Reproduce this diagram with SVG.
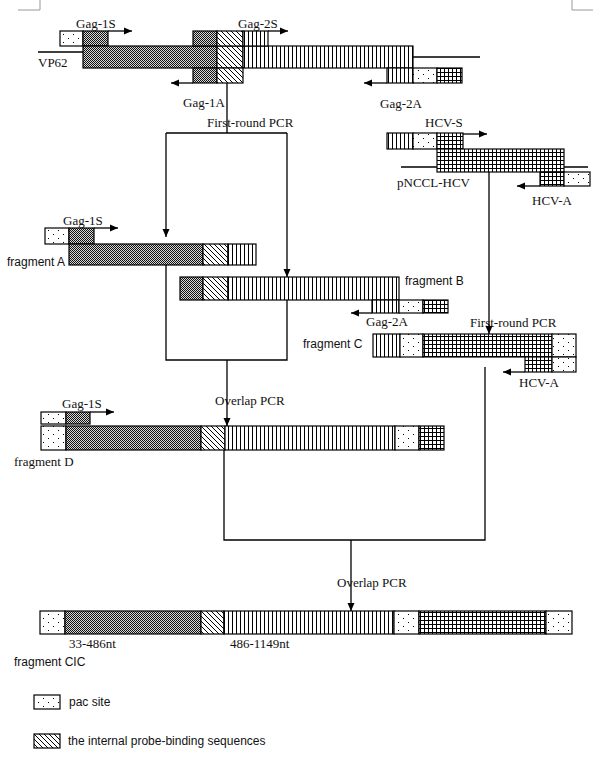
<svg xmlns="http://www.w3.org/2000/svg" width="600" height="757" viewBox="0 0 600 757">
<defs>
<pattern id="pac" width="10" height="8" patternUnits="userSpaceOnUse"><rect width="10" height="8" fill="#fff"/><rect x="3" y="2" width="1" height="1" fill="#000"/><rect x="8" y="6" width="1" height="1" fill="#000"/></pattern>
<pattern id="dense" width="2" height="2" patternUnits="userSpaceOnUse"><rect width="2" height="2" fill="#d8d8d8"/><rect width="1" height="1" fill="#111"/><rect x="1" y="1" width="1" height="1" fill="#111"/></pattern>
<pattern id="diag" width="5" height="5" patternUnits="userSpaceOnUse"><rect width="5" height="5" fill="#fff"/><path d="M-1,-1 L6,6 M-1,4 L1,6 M4,-1 L6,1" stroke="#000" stroke-width="1"/></pattern>
<pattern id="vert" width="4" height="4" patternUnits="userSpaceOnUse"><rect width="4" height="4" fill="#fff"/><rect x="0" width="1" height="4" fill="#000"/></pattern>
<pattern id="grid" width="4" height="4" patternUnits="userSpaceOnUse"><rect width="4" height="4" fill="#fff"/><rect width="1" height="4" fill="#000"/><rect width="4" height="1" fill="#000"/></pattern>
<marker id="ah" markerUnits="userSpaceOnUse" markerWidth="8" markerHeight="8" refX="8" refY="4" orient="auto"><path d="M0,0.5 L8,4 L0,7.5 z" fill="#000"/></marker>
</defs>
<style>
.s{stroke:#000;stroke-width:1.2}
.p{fill:url(#pac)}
.d{fill:url(#dense)}
.h{fill:url(#diag)}
.v{fill:url(#vert)}
.g{fill:url(#grid)}
.ln{stroke:#000;stroke-width:1.3;fill:none}
.ar{stroke:#000;stroke-width:1.3;fill:none;marker-end:url(#ah)}
.t{font-family:"Liberation Serif",serif;font-size:13px;fill:#111}
.f{font-family:"Liberation Sans",sans-serif;font-size:12px;fill:#111}
</style>
<rect width="600" height="757" fill="#fff"/>
<path d="M40,0 V10 H18 M572,0 V10 H593" stroke="#999" stroke-width="1" fill="none"/>

<g id="vp62">
<path class="ln" d="M38,52 H83 M413,57 H480"/>
<rect class="s p" x="60" y="31" width="23" height="15"/>
<rect class="s d" x="83" y="31" width="25" height="15"/>
<rect class="s d" x="83" y="46" width="134" height="22"/>
<rect class="s h" x="217" y="46" width="26" height="22"/>
<rect class="s v" x="243" y="46" width="170" height="22"/>
<rect class="s d" x="193" y="31" width="24" height="15"/>
<rect class="s h" x="217" y="31" width="26" height="15"/>
<rect class="s v" x="243" y="31" width="25" height="15"/>
<rect class="s d" x="193" y="68" width="24" height="15"/>
<rect class="s h" x="217" y="68" width="26" height="15"/>
<rect class="s v" x="387" y="68" width="26" height="15"/>
<rect class="s p" x="413" y="68" width="24" height="15"/>
<rect class="s g" x="437" y="68" width="25" height="15"/>
<path class="ar" d="M108,31 H132"/>
<path class="ar" d="M268,31 H288"/>
<path class="ar" d="M193,83 H171"/>
<path class="ar" d="M387,83 H364"/>
<text class="t" x="76" y="28">Gag-1S</text>
<text class="t" x="238" y="28">Gag-2S</text>
<text class="t" x="38" y="67">VP62</text>
<text class="t" x="183" y="107">Gag-1A</text>
<text class="t" x="380" y="108">Gag-2A</text>
</g>

<g id="hcv">
<path class="ln" d="M401,167 H437 M564,167 H588"/>
<rect class="s v" x="387" y="133" width="26" height="16"/>
<rect class="s p" x="413" y="133" width="24" height="16"/>
<rect class="s g" x="437" y="133" width="26" height="16"/>
<rect class="s g" x="437" y="149" width="127" height="23"/>
<rect class="s g" x="540" y="172" width="24" height="14"/>
<rect class="s p" x="564" y="172" width="26" height="14"/>
<path class="ar" d="M463,134 H487"/>
<path class="ar" d="M540,186 H517"/>
<text class="t" x="425" y="127">HCV-S</text>
<text class="t" x="397" y="187">pNCCL-HCV</text>
<text class="t" x="532" y="205">HCV-A</text>
</g>

<g id="fragA">
<rect class="s p" x="45" y="228" width="24" height="16"/>
<rect class="s d" x="69" y="228" width="25" height="16"/>
<rect class="s d" x="69" y="244" width="134" height="21"/>
<rect class="s h" x="203" y="244" width="25" height="21"/>
<rect class="s v" x="228" y="244" width="28" height="21"/>
<path class="ar" d="M94,228 H118"/>
<text class="t" x="63" y="225">Gag-1S</text>
<text class="f" x="7" y="266">fragment A</text>
</g>

<g id="fragB">
<rect class="s d" x="180" y="277" width="23" height="23"/>
<rect class="s h" x="203" y="277" width="25" height="23"/>
<rect class="s v" x="228" y="277" width="171" height="23"/>
<rect class="s v" x="372" y="300" width="27" height="13"/>
<rect class="s p" x="399" y="300" width="24" height="13"/>
<rect class="s g" x="423" y="300" width="25" height="13"/>
<path class="ar" d="M372,313 H351"/>
<text class="f" x="405" y="285">fragment B</text>
<text class="t" x="366" y="326">Gag-2A</text>
</g>

<g id="fragC">
<rect class="s v" x="373" y="334" width="27" height="23"/>
<rect class="s p" x="400" y="334" width="23" height="23"/>
<rect class="s g" x="423" y="334" width="129" height="23"/>
<rect class="s p" x="552" y="334" width="24" height="23"/>
<rect class="s g" x="525" y="357" width="27" height="15"/>
<rect class="s p" x="552" y="357" width="24" height="15"/>
<path class="ar" d="M525,372 H503"/>
<text class="f" x="303" y="348">fragment C</text>
<text class="t" x="470" y="327">First-round PCR</text>
<text class="t" x="519" y="387">HCV-A</text>
</g>

<g id="fragD">
<rect class="s p" x="41" y="412" width="25" height="12"/>
<rect class="s d" x="66" y="412" width="24" height="12"/>
<rect class="s p" x="41" y="426" width="25" height="24"/>
<rect class="s d" x="66" y="426" width="135" height="24"/>
<rect class="s h" x="201" y="426" width="24" height="24"/>
<rect class="s v" x="225" y="426" width="170" height="24"/>
<rect class="s p" x="395" y="426" width="24" height="24"/>
<rect class="s g" x="419" y="426" width="25" height="24"/>
<path class="ar" d="M90,412 H114"/>
<text class="t" x="62" y="408">Gag-1S</text>
<text class="t" x="215" y="405">Overlap PCR</text>
<text class="t" x="14" y="466">fragment D</text>
</g>

<g id="fragCIC">
<rect class="s p" x="40" y="611" width="25" height="23"/>
<rect class="s d" x="65" y="611" width="136" height="23"/>
<rect class="s h" x="201" y="611" width="23" height="23"/>
<rect class="s v" x="224" y="611" width="170" height="23"/>
<rect class="s p" x="394" y="611" width="25" height="23"/>
<rect class="s g" x="419" y="611" width="127" height="23"/>
<rect class="s p" x="546" y="611" width="26" height="23"/>
<text class="t" x="69" y="648">33-486nt</text>
<text class="t" x="230" y="648">486-1149nt</text>
<text class="f" x="14" y="666">fragment CIC</text>
<text class="t" x="337" y="587">Overlap PCR</text>
</g>

<g id="legend">
<rect class="s p" x="34" y="695" width="26" height="14"/>
<text class="f" x="69" y="706">pac site</text>
<rect class="s h" x="34" y="734" width="26" height="14"/>
<text class="f" x="68" y="745">the internal probe-binding sequences</text>
</g>

<g id="connectors">
<path class="ln" d="M227,83 V133 M166,133 H287"/>
<path class="ar" d="M166,133 V237"/>
<path class="ar" d="M287,133 V277"/>
<text class="t" x="207" y="127">First-round PCR</text>
<path class="ar" d="M489,172 V334"/>
<path class="ln" d="M166,265 V360 H287 V300"/>
<path class="ar" d="M227,360 V426"/>
<path class="ln" d="M485,367 V540 H224 V450"/>
<path class="ar" d="M351,540 V611"/>
</g>
</svg>
